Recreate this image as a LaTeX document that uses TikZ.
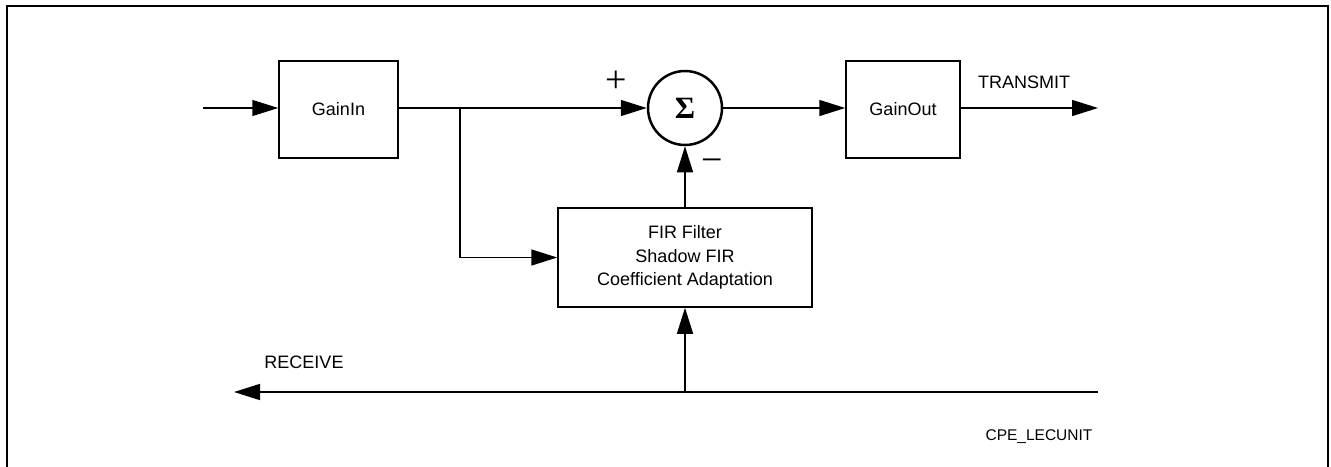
\documentclass[tikz,border=0pt]{standalone}
\usepackage{amsmath}
\usepackage{fontspec}
\setmainfont{Liberation Sans}
\newfontfamily\sigmafont{Liberation Serif}
\usetikzlibrary{arrows.meta}

\begin{document}
\begin{tikzpicture}[x=1pt,y=-1pt,
	font=\fontsize{18}{23.5}\selectfont,
	blk/.style={draw,line width=1.5pt,rectangle,align=center,inner sep=0pt},
	sig/.style={line width=1.5pt,-{Triangle[length=26pt,width=16pt]}},
	pm/.style={font=\sigmafont\fontsize{38}{40}\selectfont,inner sep=0pt}]
	\useasboundingbox (0,0) rectangle (1331,466);
	\draw[line width=1.5pt] (7,470) -- (7,6) -- (1328,6) -- (1328,470);
	\node[blk,minimum width=119pt,minimum height=97pt] (gainin) at (338.5,109.5) {GainIn};
	\node[draw,circle,line width=2.5pt,minimum size=74pt,inner sep=0pt] (sum) at (685,108)
		{\sigmafont\bfseries\fontsize{31}{33}\selectfont Σ};
	\node[blk,minimum width=114pt,minimum height=97pt] (gainout) at (903,109.5) {GainOut};
	\node[blk,minimum width=254pt,minimum height=99pt] (fir) at (685,257.5)
		{FIR Filter\\Shadow FIR\\Coefficient Adaptation};
	\coordinate (in) at (203,108);
	\coordinate (out) at (1098,108);
	\coordinate (tap) at (460,108);
	\coordinate (rxin) at (1098,392);
	\coordinate (rxout) at (234,392);
	\coordinate (rxtap) at (685,392);
	\draw[sig] (in) -- (gainin.west |- in);
	\draw[sig] (gainin.east |- in) -- (sum.west);
	\draw[sig] (tap) |- (fir.west);
	\draw[sig] (fir.north) -- (sum.south);
	\draw[sig] (sum.east) -- (gainout.west |- sum);
	\draw[sig] (gainout.east |- out) -- (out);
	\draw[sig] (rxin) -- (rxout);
	\draw[sig] (rxtap) -- (fir.south);
	\node[pm] (plus) at (616,82) {+};
	\node[pm] (minus) at (712,166) {−};
	\node (tx) at (1024,82) {TRANSMIT};
	\node (rx) at (304,362) {RECEIVE};
	\node[font=\fontsize{15.5}{18}\selectfont] (tag) at (1039,437) {CPE\_LECUNIT};
\end{tikzpicture}
\end{document}
